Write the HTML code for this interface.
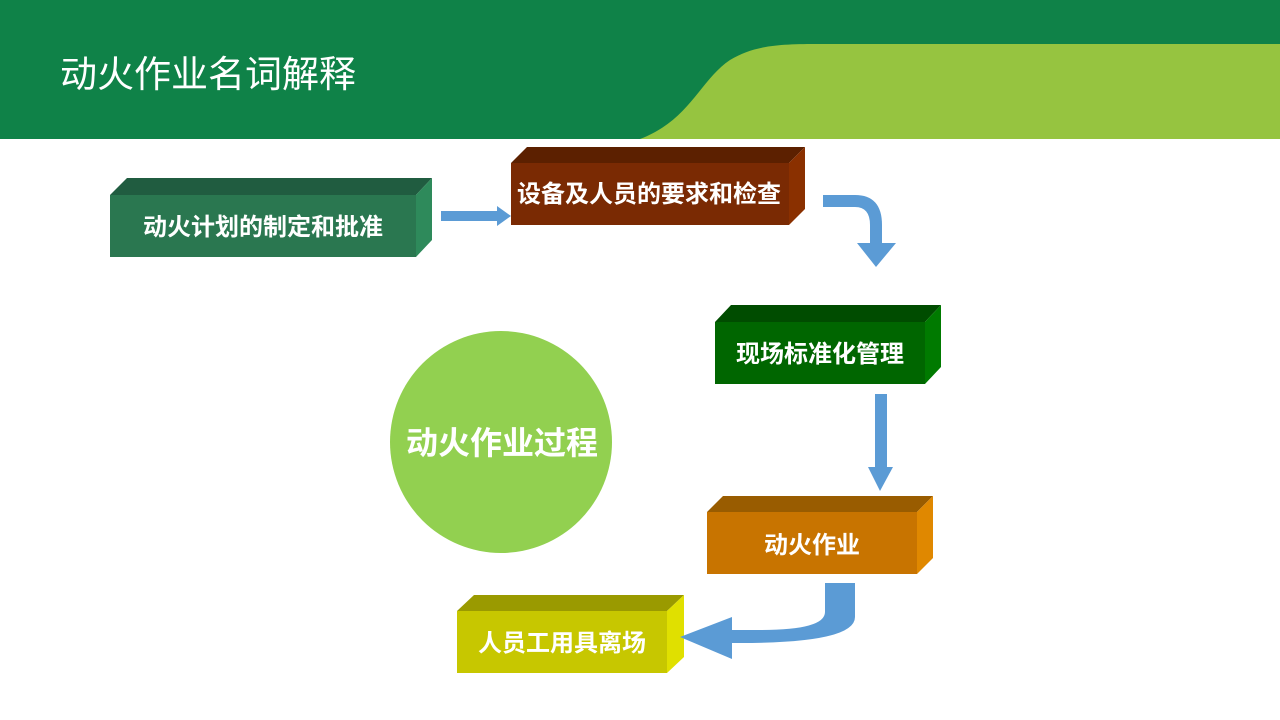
<!DOCTYPE html>
<html><head><meta charset="utf-8"><style>
html,body{margin:0;padding:0}
body{width:1280px;height:720px;position:relative;overflow:hidden;background:#fff;font-family:"Liberation Sans","Noto Sans CJK SC",sans-serif}
svg{position:absolute;left:0;top:0}
</style></head><body>
<svg width="1280" height="720" viewBox="0 0 1280 720">
<rect x="0" y="0" width="1280" height="139" fill="#0f8248"/>
<path d="M640,139 C690,120 700,80 730,60 C755,45 780,44 820,44 L1280,44 L1280,139 Z" fill="#96c440"/>
<text x="60" y="87" font-size="37" fill="#fff" font-family="Liberation Sans, Noto Sans CJK SC, sans-serif">动火作业名词解释</text>

<polygon points="110,195 127,178 432,178 416,195" fill="#205c40"/>
<polygon points="416,195 432,178 432,240 416,257" fill="#2e8a5b"/>
<rect x="110" y="195" width="306" height="62" fill="#2a7750"/>
<text x="263" y="235" font-size="24" font-weight="bold" fill="#fff" text-anchor="middle">动火计划的制定和批准</text>

<polygon points="511,163 527,147 805,147 789,163" fill="#5c2000"/>
<polygon points="789,163 805,147 805,209 789,225" fill="#8a3000"/>
<rect x="511" y="163" width="278" height="62" fill="#7a2a03"/>
<text x="649" y="202" font-size="24" font-weight="bold" fill="#fff" text-anchor="middle">设备及人员的要求和检查</text>

<polygon points="715,322 731,305 941,305 925,322" fill="#004c00"/>
<polygon points="925,322 941,305 941,367 925,384" fill="#007a00"/>
<rect x="715" y="322" width="210" height="62" fill="#006600"/>
<text x="820" y="362" font-size="24" font-weight="bold" fill="#fff" text-anchor="middle">现场标准化管理</text>

<polygon points="707,512 723,496 933,496 917,512" fill="#995c00"/>
<polygon points="917,512 933,496 933,558 917,574" fill="#e08800"/>
<rect x="707" y="512" width="210" height="62" fill="#c87400"/>
<text x="812" y="553" font-size="24" font-weight="bold" fill="#fff" text-anchor="middle">动火作业</text>

<polygon points="457,611 474,595 684,595 667,611" fill="#9a9a00"/>
<polygon points="667,611 684,595 684,657 667,673" fill="#e0e000"/>
<rect x="457" y="611" width="210" height="62" fill="#c7c700"/>
<text x="562" y="651" font-size="24" font-weight="bold" fill="#fff" text-anchor="middle">人员工用具离场</text>

<circle cx="501" cy="442" r="111" fill="#92d050"/>
<text x="502" y="454" font-size="32" font-weight="bold" fill="#fff" text-anchor="middle">动火作业过程</text>

<polygon points="441,211 497,211 497,206 511,216 497,226 497,221 441,221" fill="#5b9bd5"/>
<path d="M823,195 L855,195 Q882,195 882,225 L882,243 L896,243 L876,267 L857,243 L870,243 L870,225 Q870,207 855,207 L823,207 Z" fill="#5b9bd5"/>
<polygon points="875,394 887,394 887,467 893,467 880,491 868,467 875,467" fill="#5b9bd5"/>
<path d="M825,583 L855,583 L855,617 Q855,643 740,643 L732,643 L732,659 L680,637 L732,617 L732,630 L760,630 Q825,630 825,612 Z" fill="#5b9bd5"/>
</svg>
</body></html>
